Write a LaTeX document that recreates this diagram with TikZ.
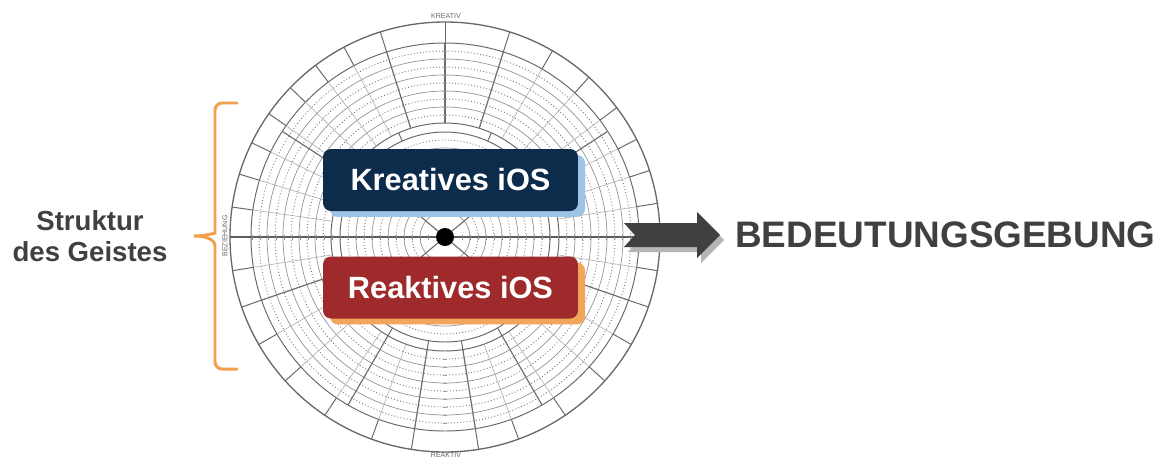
\documentclass[tikz,border=0pt]{standalone}
\usepackage{fontspec}
\setmainfont{Liberation Sans}
\usetikzlibrary{shadows}
\definecolor{kreativ}{HTML}{0D2B4B}
\definecolor{kreativlight}{HTML}{9DC3E6}
\definecolor{reaktiv}{HTML}{9E2A2B}
\definecolor{reaktivlight}{HTML}{F2A65A}
\definecolor{ink}{HTML}{404040}
\definecolor{wheel}{HTML}{7A7A7A}
\definecolor{bracecol}{HTML}{F2A04E}
\definecolor{arrowshade}{HTML}{B5B5B5}

\begin{document}
\begin{tikzpicture}[x=0.02cm, y=-0.02cm,
  iosbox/.style={rounded corners=4.5pt, minimum width=5.1cm, minimum height=1.24cm, text=white, font=\fontsize{17.5}{20}\selectfont\bfseries},
  ring/.style={draw=wheel!85!black, line width=0.55pt},
  band/.style={draw=wheel!80, line width=0.4pt},
  dots/.style={draw=wheel, line width=0.55pt, dash pattern=on 0.5pt off 1.3pt},
  spoke/.style={draw=wheel!60, line width=0.35pt},
  bigspoke/.style={draw=wheel!90!black, line width=0.65pt},
  ringlabel/.style={text=ink!80, font=\fontsize{4}{5}\selectfont, inner sep=0pt},
]
\useasboundingbox (0,0) rectangle (1173,457);
\fill[white] (0,0) rectangle (1173,457);

% wheel
\begin{scope}[shift={(445,237)}, yscale=-1]
  \draw[ring, line width=0.75pt] (0,0) circle[radius=215];
  \draw[ring] (0,0) circle[radius=194];
  \foreach \r in {178,162,146,130} \draw[band] (0,0) circle[radius=\r];
  \foreach \r in {186,170,154,138,122} \draw[dots] (0,0) circle[radius=\r];
  \draw[ring] (0,0) circle[radius=114];
  \draw[ring] (0,0) circle[radius=105];
  \foreach \r in {89,73,57,41,25} \draw[band] (0,0) circle[radius=\r];
  \foreach \r in {97,81,65,49,33} \draw[dots] (0,0) circle[radius=\r];
  \foreach \a in {0,9,18,27,37,48,60,72.5,90,107.5,118,127,136,145,154,163,172,180,189,199,210,222,236,250,261,279,290,304,318,330,341,351} {
    \draw[ring] (\a:194) -- (\a:215);
    \draw[spoke] (\a:114) -- (\a:194);
  }
  \foreach \a in {33,72.5,90,107.5,147,199,240,261,279,300,341}
    \draw[bigspoke] (\a:114) -- (\a:194);
  \foreach \a in {66,114,240,261,279,300}
    \draw[ring] (\a:105) -- (\a:114);
  \foreach \a in {40,140,220,320}
    \draw[bigspoke] (\a:9) -- (\a:105);
  \draw[draw=ink!85, line width=1.1pt] (180:215) -- (0:215);
  \foreach \r in {17,25,...,193}
    \draw[ink!60, line width=0.3pt] (\r,-2.5) -- (\r,2.5) (-\r,-2.5) -- (-\r,2.5);
  \foreach \r in {122,130,...,186}
    \draw[ink!50, line width=0.3pt] (-2,\r) -- (2,\r) (-2,-\r) -- (2,-\r);
  \fill[black] (0,0) circle[radius=9];
\end{scope}
\node[ringlabel] (kreativlbl) at (446,16) {KREATIV};
\node[ringlabel] (reaktivlbl) at (446,455) {REAKTIV};
\node[ringlabel, rotate=90] (beziehunglbl) at (225,236) {BEZIEHUNG};

% iOS boxes
\node[iosbox, fill=kreativ, general shadow={fill=kreativlight, shadow xshift=4pt, shadow yshift=-3.4pt}] (kreatives) at (450.5,180) {Kreatives iOS};
\node[iosbox, fill=reaktiv, general shadow={fill=reaktivlight, shadow xshift=4pt, shadow yshift=-3.4pt}] (reaktives) at (450.5,287.5) {Reaktives iOS};

% arrow
\fill[arrowshade, shift={(4,5)}] (624,223) -- (697,223) -- (697,212) -- (720,235) -- (697,258) -- (697,247) -- (624,247) -- (635,235) -- cycle;
\fill[ink] (624,223) -- (697,223) -- (697,212) -- (720,235) -- (697,258) -- (697,247) -- (624,247) -- (635,235) -- cycle;
\node[font=\fontsize{21}{24}\selectfont\bfseries, text=ink, anchor=west, inner sep=0pt] (gebung) at (735,235) {BEDEUTUNGSGEBUNG};

% brace
\node[align=center, font=\fontsize{15.7}{18}\selectfont\bfseries, text=ink] (struktur) at (90,236) {Struktur\\des Geistes};
\draw[bracecol, line width=1.7pt, line cap=round] (237,103) [rounded corners=4pt] -- (215,103) -- (215,226) [sharp corners] .. controls (215,233) and (205,236) .. (194,236) .. controls (205,236) and (215,239) .. (215,246) [rounded corners=4pt] -- (215,369) -- (237,369);
\end{tikzpicture}
\end{document}
